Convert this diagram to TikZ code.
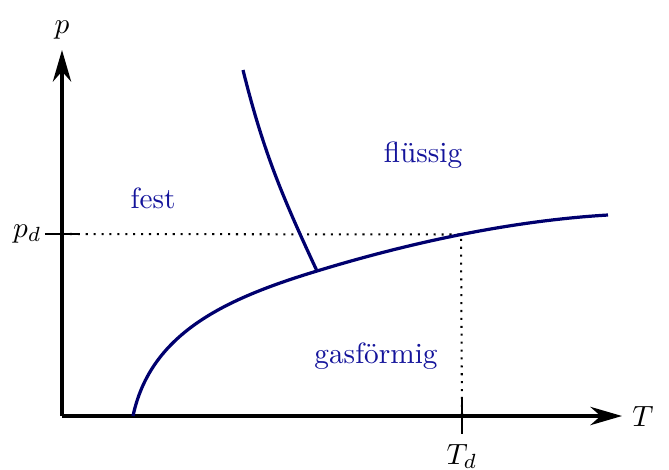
\documentclass[tikz,border=0pt]{standalone}
\usetikzlibrary{arrows.meta}
\definecolor{kurvenfarbe}{RGB}{0,0,110}
\definecolor{phasenfarbe}{RGB}{20,20,155}
\tikzset{
  achse/.style={line width=1.1pt, -{Stealth[length=3.8mm,width=2.2mm]}},
  strich/.style={line width=0.7pt},
  grenze/.style={kurvenfarbe, line width=1.1pt},
  phase/.style={phasenfarbe},
  hilfslinie/.style={dotted, line width=0.7pt}
}
\begin{document}
\begin{tikzpicture}[x=0.6cm, y=0.6cm]
            \useasboundingbox (-1.24,-1.06) rectangle (12.14,8.32);
            % Achsen
            \coordinate (O) at (0,0);
            \coordinate (xend) at (11.2,0);
            \coordinate (yend) at (0,7.32);
            \draw[achse] (O) -- (xend);
            \draw[achse] (O) -- (yend);
            \node[right] (Tlab) at (xend) {$T$};
            \node[above] (plab) at (yend) {$p$};
            % Druck und Temperatur
            \coordinate (pdl) at (-0.34,3.64);
            \coordinate (pdr) at (0.32,3.64);
            \coordinate (pdax) at (0,3.64);
            \coordinate (Tdo) at (8,0.36);
            \coordinate (Tdu) at (8,-0.36);
            \coordinate (Tdax) at (8,0);
            \coordinate (D) at (7.98,3.63);
            \draw[strich] (pdl) -- (pdr);
            \draw[strich] (Tdo) -- (Tdu);
            \node[left, inner sep=1pt] (pdlab) at (pdl) {$p_d$};
            \node[below] (Tdlab) at (Tdu) {$T_d$};
            \draw[hilfslinie] (pdax) -- (D) -- (Tdax);
            % Phasengrenzen
            \coordinate (sub) at (1.42,0);
            \coordinate (tp) at (5.1,2.9);
            \coordinate (dk) at (10.92,4.02);
            \coordinate (sm) at (3.62,6.92);
            \draw[grenze] (sub) .. controls (1.77,1.65) and (3.25,2.34) .. (tp)
                                .. controls (6.955,3.467) and (8.984,3.905) .. (dk);
            \draw[grenze] (tp) to[out=115, in=-76] (sm);
            % Phasen
            \node[phase] (fest) at (1.82,4.36) {fest};
            \node[phase] (fluessig) at (7.22,5.22) {flüssig};
            \node[phase] (gas) at (6.28,1.2) {gasförmig};
        \end{tikzpicture}
\end{document}
